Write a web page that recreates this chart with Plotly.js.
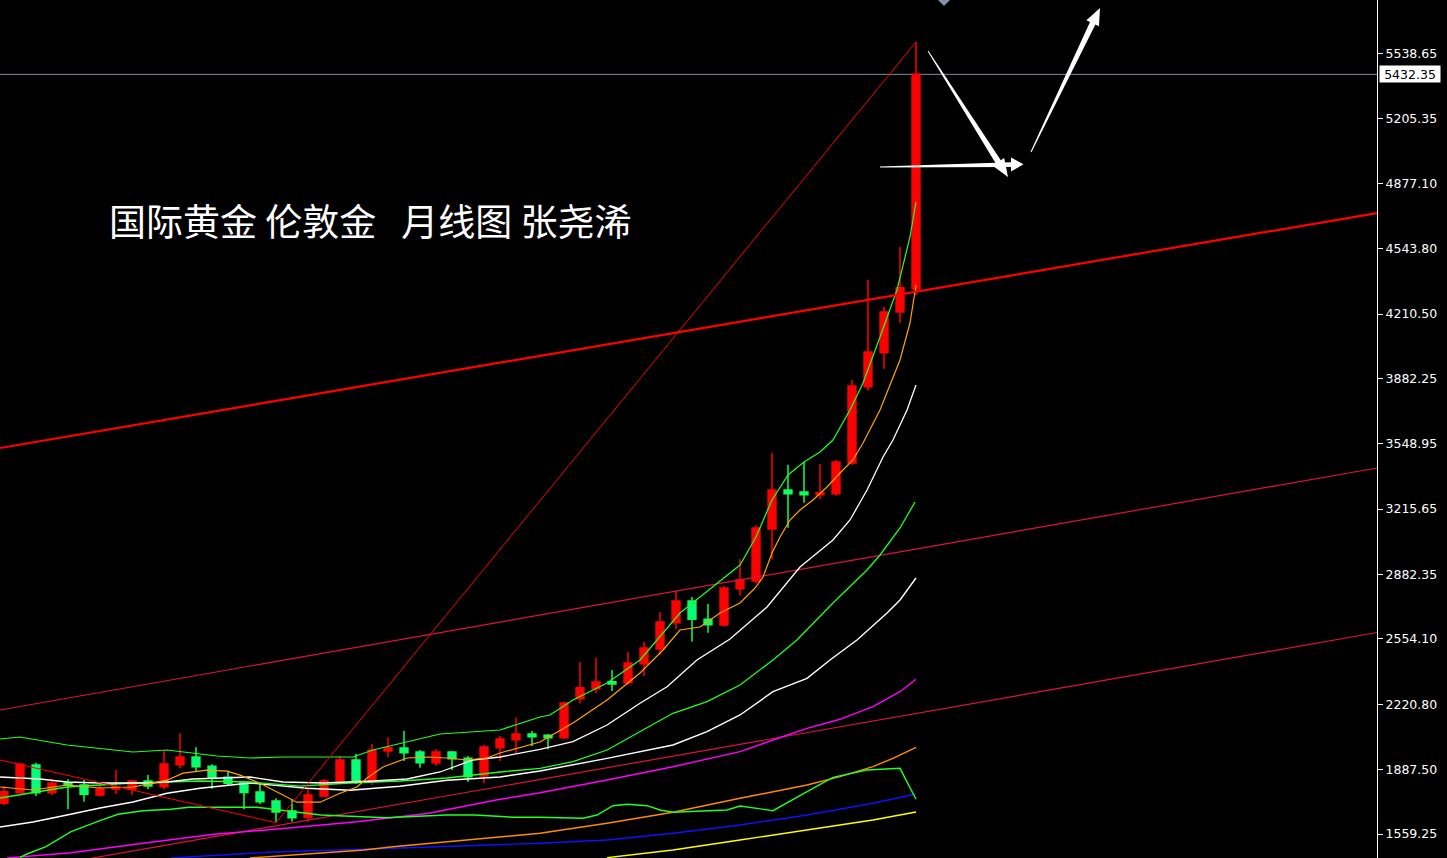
<!DOCTYPE html>
<html><head><meta charset="utf-8">
<script src="https://cdn.plot.ly/plotly-3.0.1.min.js"></script>
<style>html,body{margin:0;padding:0;background:#000;overflow:hidden}#chart{width:1447px;height:858px}</style>
</head><body><div id="chart"></div>
<script>
// ---- monthly candles (index 0 = first visible month) ----
const candleIdx = Array.from({length:58},(_, i)=>i);
const opens  = [1715.8,1769.8,1911.0,1769.8,1819.3,1809.1,1758.1,1788.7,1787.2,1829.5,1800.4,1912.6,1951.8,1904.4,1848.3,1821.8,1773.4,1727.5,1676.5,1644.4,1753.0,1829.5,1936.5,1825.9,1982.4,1997.7,1977.3,1922.8,1977.3,1945.2,1855.0,1999.3,2040.1,2069.1,2062.5,2050.2,2249.1,2300.1,2335.8,2330.7,2427.5,2502.5,2636.6,2747.2,2653.9,2624.8,2809.9,2849.2,3114.3,3313.1,3302.9,3289.2,3294.3,3450.8,3839.8,4013.2,4220.7,4339.5];
const highs  = [1804.0,1922.8,1922.8,1838.1,1838.1,1834.6,1809.1,1885.6,1834.6,1860.1,1982.4,2072.6,2001.3,1914.6,1882.1,1826.0,1814.2,1741.3,1736.2,1795.3,1839.7,1958.5,1967.1,2018.1,2052.3,2084.4,1987.5,1991.1,1982.4,1956.9,2013.0,2058.9,2152.2,2084.4,2069.1,2233.8,2436.2,2458.2,2395.4,2488.7,2539.7,2691.1,2798.2,2767.6,2731.9,2825.2,2959.8,3133.2,3503.3,3442.1,3455.9,3445.7,3466.1,3874.0,4383.8,4247.7,4552.1,5597.3];
const lows   = [1706.1,1767.0,1753.0,1758.0,1685.2,1723.9,1749.4,1763.2,1758.1,1787.2,1787.2,1894.2,1876.9,1790.2,1809.0,1685.2,1712.2,1620.4,1622.0,1622.0,1746.4,1824.4,1814.2,1809.1,1950.3,1931.5,1897.3,1907.5,1885.6,1824.4,1817.7,1931.5,1970.7,2007.9,1991.1,2042.1,2225.6,2276.6,2288.3,2320.0,2364.8,2471.9,2604.4,2539.7,2585.6,2616.2,2774.2,2837.5,2959.8,3120.9,3248.4,3265.7,3284.1,3440.6,3819.4,3930.1,4166.1,4307.3];
const closes = [1774.9,1914.6,1769.8,1817.7,1809.1,1761.7,1788.7,1800.4,1829.5,1804.0,1916.1,1951.8,1902.4,1846.3,1817.7,1770.8,1723.9,1671.4,1642.4,1758.1,1829.5,1936.5,1825.9,1987.5,1999.3,1973.8,1922.8,1977.3,1943.2,1851.4,2002.8,2043.6,2069.1,2055.3,2050.2,2227.1,2305.2,2334.2,2324.0,2431.1,2507.6,2640.1,2747.2,2653.9,2626.4,2813.5,2854.3,3119.4,3313.1,3294.3,3289.2,3299.4,3455.9,3843.4,4016.7,4220.7,4344.6,5432.35];

// ---- indicator lines (x = candle index, y = price) ----
const upperGreenX = [-0.25,1,3.94,8.06,10.19,13.31,15.375,17.44,21.81,23.06,27.25,31,33.5,34.125,35.56,37.69,39.75,42.25,43.5,46,47,48,49,50,51,51.81,52.875,53.69,54.75,55.81,56.625,57];
const upperGreenY = [2043.6,2053.8,2013.0,1977.4,1987.5,1957.0,1946.8,1951.9,1951.9,1987.5,2069.1,2089.5,2155.8,2166.0,2242.5,2329.1,2446.4,2686.0,2767.6,2930.8,3073.5,3262.2,3389.6,3455.9,3506.9,3568.1,3721.0,3858.7,4093.2,4332.9,4603.1,4781.5];

const orangeX = [-0.25,1.81,3.94,6,8.06,10.19,11.19,12.69,13.94,14.75,16,17.25,18.31,19.75,21,22.06,22.69,23.69,25.19,26.44,27.69,28.94,30.19,31,33.5,35.56,37.69,39.75,41.19,42.25,43.5,44.75,46,46.94,47.44,48,48.5,49.125,49.75,50.56,51.44,52.25,53.06,53.69,54.75,56,56.625,57];
const orangeY = [1798.9,1783.6,1809.1,1793.8,1798.9,1833.6,1869.3,1884.6,1879.5,1859.1,1818.3,1767.3,1721.4,1721.4,1767.3,1798.9,1844.8,1900.9,1946.8,1951.9,1946.8,1936.6,1946.8,1972.3,2028.3,2125.2,2242.5,2380.1,2497.4,2599.4,2614.7,2686.0,2737.0,2813.5,2869.6,2992.0,3073.5,3160.2,3211.2,3262.2,3328.5,3399.8,3466.1,3552.8,3721.0,3976.0,4164.6,4358.4];

const white1X = [-0.25,2.25,3.94,6,9.125,10.19,11.81,13.31,15.375,17.44,19.94,23.06,25.19,27.25,29.31,31,33.5,35.56,37.69,39.75,41.44,43.31,45.375,47.69,49.75,51.81,52.875,53.94,54.94,55.56,56.44,57];
const white1Y = [1849.9,1839.7,1824.4,1819.3,1819.3,1824.4,1839.7,1844.8,1849.9,1824.4,1819.3,1829.5,1839.7,1875.4,1936.6,1951.9,1991.1,2029.9,2115.0,2225.6,2310.3,2446.4,2553.5,2716.6,2920.6,3058.2,3160.2,3313.2,3481.4,3568.1,3721.0,3848.5];

const white2X = [-0.25,1.81,3.94,6,8.06,10.19,12.25,15.375,18.94,21.625,24.75,27.69,31,33.5,37.69,41.81,43.94,46,48.06,50.19,51.625,53.31,55.19,56,57];
const white2Y = [1595.0,1620.4,1656.1,1691.8,1722.4,1767.3,1792.8,1819.3,1792.8,1782.6,1803.0,1833.6,1849.9,1880.5,1944.7,2013.0,2081.3,2166.0,2284.8,2353.1,2446.4,2548.5,2686.0,2752.3,2864.5];

const green2X = [-0.25,3.94,8.06,12.25,15.375,18.5,21.625,24.75,27.69,31,33.5,35.56,37.69,39.75,41.81,43.94,46,48.06,49.56,51.81,53.94,54.75,56,56.94];
const green2Y = [1742.8,1798.9,1819.3,1829.5,1824.4,1803.0,1819.3,1829.5,1844.8,1875.4,1894.2,1927.9,1987.5,2081.3,2174.7,2233.8,2319.0,2446.4,2548.5,2737.0,2905.3,2981.8,3119.4,3252.0];

const green3X = [1,1.44,2.625,4.19,6,7.125,8.69,10.44,11.56,15.81,19.81,23.875,27.625,29.44,31.875,33.5,36.19,37.06,38.06,38.94,40.19,41,41.81,45.19,46,48.06,50.56,51.81,53.94,56,57];
const green3Y = [1440.0,1457.3,1494.5,1571.0,1627.1,1659.7,1678.1,1685.2,1695.4,1695.4,1656.1,1642.4,1656.1,1656.1,1644.4,1644.4,1639.3,1656.1,1703.5,1710.7,1703.5,1681.6,1669.9,1681.6,1702.0,1678.1,1792.3,1848.4,1885.6,1894.2,1736.2];

const magentaX = [0.19,4.19,8.69,13.125,17.625,22.06,26.56,30.75,33.5,37.69,41.81,46,48.06,50.19,52.25,54.31,56,57];
const magentaY = [1437.0,1464.0,1511.9,1557.8,1588.4,1622.1,1664.9,1732.6,1769.8,1834.6,1902.4,1978.9,2038.5,2098.2,2144.1,2208.3,2284.8,2348.0];

const orange2X = [15.375,22.5,24.31,28.75,33.5,37.69,41.81,46,50.19,52.25,54.31,55.56,57];
const orange2Y = [1437.0,1477.7,1494.5,1528.6,1562.8,1613.8,1669.9,1741.3,1809.1,1851.4,1902.4,1945.2,2001.5];

const blueX = [10.44,16.5,24.31,31.44,33.5,37.69,41.81,46,50.19,54.31,57];
const blueY = [1437.0,1466.1,1486.5,1508.4,1512.0,1528.8,1563.0,1605.3,1656.3,1715.9,1763.3];

const yellowX = [37.69,41.81,46,50.19,54.31,57];
const yellowY = [1438.5,1477.7,1528.7,1579.7,1630.7,1671.5];

// ---- hand-drawn trend lines (x = candle index, y = price) ----
const channelMainX = [-0.25,85.8125];  const channelMainY = [3527.3,4725.4];
const channelMidX  = [-0.25,85.8125];  const channelMidY  = [2191.5,3425.3];
const channelLowX  = [-0.25,85.8125];  const channelLowY  = [1353.8,2586.6];
const zigzagX = [-0.25,17,57];          const zigzagY = [1936.6,1616.9,5597.3];

const lastPrice = 5432.35;
const tickVals = [5538.65,5205.35,4877.10,4543.80,4210.50,3882.25,3548.95,3215.65,2882.35,2554.10,2220.80,1887.50,1559.25];
const tickText = tickVals.map(v => v.toFixed(2));
const titleText = '国际黄金 伦敦金\u00a0\u00a0\u00a0月线图 张尧浠';

// ---- traces ----
const traces = [];
traces.push({
  type:'candlestick', x:candleIdx, open:opens, high:highs, low:lows, close:closes,
  increasing:{line:{color:'#ff0000', width:1.5}, fillcolor:'#ff0000'},
  decreasing:{line:{color:'#10ff50', width:1.5}, fillcolor:'#00ff80'},
  whiskerwidth:0, hoverinfo:'skip'
});
function line(x, y, color, width){
  traces.push({type:'scatter', mode:'lines', x:x, y:y, line:{color:color, width:width}, hoverinfo:'skip'});
}
line(channelLowX, channelLowY, '#dc143c', 1.2);
line(channelMidX, channelMidY, '#dc143c', 1.2);
line(yellowX, yellowY, '#ffff00', 1.4);
line(blueX, blueY, '#1010ff', 1.4);
line(orange2X, orange2Y, '#ff8c00', 1.4);
line(magentaX, magentaY, '#ff00ff', 1.4);
line(green3X, green3Y, '#22ff22', 1.4);
line(white2X, white2Y, '#ffffff', 1.4);
line(green2X, green2Y, '#22ff22', 1.3);
line(white1X, white1Y, '#ffffff', 1.3);
line(orangeX, orangeY, '#ffa500', 1.2);
line(upperGreenX, upperGreenY, '#22ff22', 1.2);
line(zigzagX, zigzagY, '#ff0000', 1);
line(channelMainX, channelMainY, '#ff0000', 2.2);

// ---- decorations in pixel space of the plot area (1377 x 858) ----
const PW = 1377, PH = 858;
function poly(pts){
  return 'M' + pts.map(p => (p[0]/PW).toFixed(5) + ',' + (1 - p[1]/PH).toFixed(5)).join(' L') + ' Z';
}
const arrowPolys = [
  [[928.4,50.7],[1000.8,160.2],[1004.2,158.0],[1008,177],[992.4,165.6],[995.8,163.4],[927.6,51.3]],
  [[880,166.6],[1011,162.2],[1011,157.6],[1023.5,164.3],[1011,171.6],[1011,167.0],[880,167.4]],
  [[1030.55,151.8],[1090.0,22.0],[1086.4,20.3],[1100,8],[1099.0,26.3],[1095.4,24.6],[1031.45,152.2]]
];
const shapes = [
  {type:'line', xref:'paper', x0:0, x1:1, yref:'y', y0:lastPrice, y1:lastPrice, line:{color:'#7f8fa0', width:1}, layer:'below'}
];
arrowPolys.forEach(p => shapes.push({type:'path', xref:'paper', yref:'paper', path:poly(p), fillcolor:'#ffffff', line:{width:0}}));
shapes.push({type:'path', xref:'paper', yref:'paper', path:poly([[938,0],[950,0],[944,6]]), fillcolor:'#8393a5', line:{width:0}});

const layout = {
  width:1447, height:858,
  margin:{l:0, r:70, t:0, b:0, pad:0},
  paper_bgcolor:'#000000', plot_bgcolor:'#000000',
  showlegend:false,
  xaxis:{range:[-0.25,85.8125], visible:false, rangeslider:{visible:false}, fixedrange:true, showgrid:false, zeroline:false},
  yaxis:{range:[1436.9,5811.42], side:'right', tickmode:'array', tickvals:tickVals, ticktext:tickText,
         ticks:'outside', ticklen:5, tickwidth:1, tickcolor:'#ffffff', showline:true, linecolor:'#ffffff', linewidth:1,
         showgrid:false, zeroline:false, fixedrange:true,
         tickfont:{family:'DejaVu Sans, Verdana, sans-serif', size:12.5, color:'#ffffff'}},
  shapes:shapes,
  annotations:[
    {xref:'paper', yref:'paper', x:369.5/PW, y:1-220/PH, xanchor:'center', yanchor:'middle', showarrow:false,
     text:titleText, font:{family:'Noto Sans CJK SC, sans-serif', size:37, color:'#ffffff'}},
    {xref:'paper', yref:'y', x:1, y:lastPrice, xanchor:'left', yanchor:'middle', xshift:2, showarrow:false,
     text:lastPrice.toFixed(2), bgcolor:'#ffffff', width:58, height:14, borderpad:1,
     font:{family:'DejaVu Sans, Verdana, sans-serif', size:12.5, color:'#000000'}}
  ]
};
Plotly.newPlot('chart', traces, layout, {displayModeBar:false, staticPlot:true});
</script>
</body></html>
